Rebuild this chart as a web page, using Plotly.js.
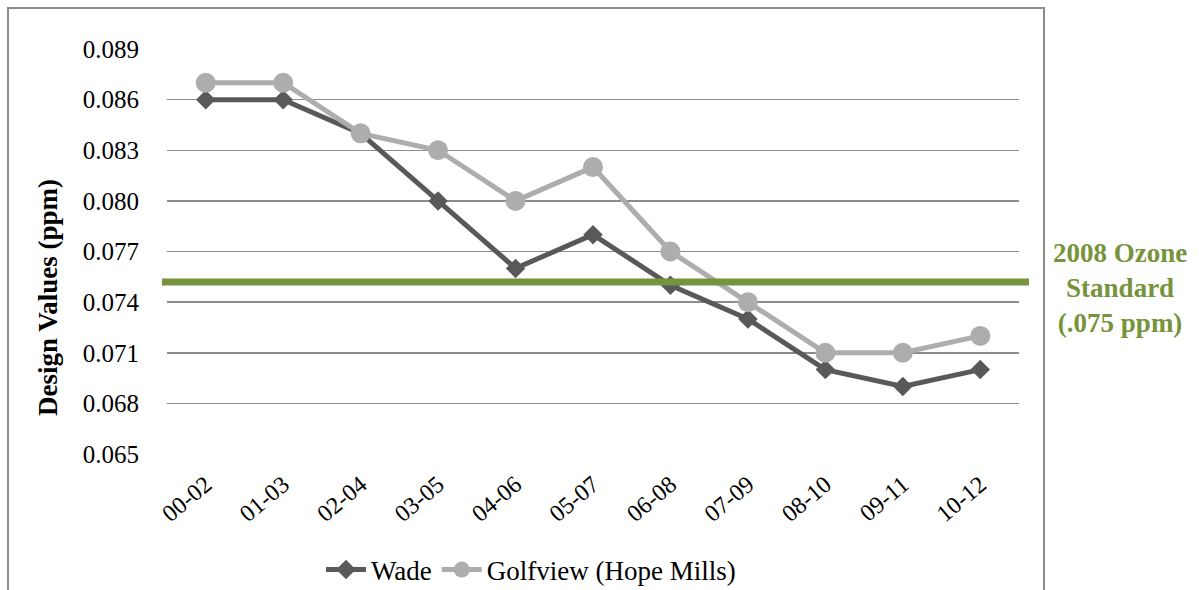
<!DOCTYPE html>
<html>
<head>
<meta charset="utf-8">
<script src="https://cdn.plot.ly/plotly-3.0.1.min.js"></script>
<style>
html,body{margin:0;padding:0;background:#fff;}
#chart{width:1199px;height:590px;}
</style>
</head>
<body>
<div id="chart"></div>
<script>
const periods = ["00-02","01-03","02-04","03-05","04-06","05-07","06-08","07-09","08-10","09-11","10-12"];
const wade = [0.086,0.086,0.084,0.080,0.076,0.078,0.075,0.073,0.070,0.069,0.070];
const golfview = [0.087,0.087,0.084,0.083,0.080,0.082,0.077,0.074,0.071,0.071,0.072];
const yTicks = [0.065,0.068,0.071,0.074,0.077,0.080,0.083,0.086,0.089];
const yTickText = ["0.065","0.068","0.071","0.074","0.077","0.080","0.083","0.086","0.089"];
const standardLevel = 0.0752;
const seriesNames = ["Wade","Golfview (Hope Mills)"];
const standardLabel = "2008 Ozone<br>Standard<br>(.075 ppm)";
const yTitle = "Design Values (ppm)";

const font = "'Liberation Serif', 'Times New Roman', serif";

const traces = [
  {
    x: periods, y: wade, name: seriesNames[0], type: "scatter", mode: "lines+markers",
    line: {color: "#595959", width: 5},
    marker: {symbol: "diamond", size: 15, color: "#595959"}
  },
  {
    x: periods, y: golfview, name: seriesNames[1], type: "scatter", mode: "lines+markers",
    line: {color: "#ADADAD", width: 5},
    marker: {symbol: "circle", size: 20, color: "#ADADAD"}
  }
];

const L = 167, R = 1019, T = 49, B = 454, W = 1199, H = 590;
const px = v => (v - L) / (R - L);
const py = v => (B - v) / (B - T);

const layout = {
  width: W, height: H,
  margin: {l: L, r: W - R, t: T, b: H - B, pad: 0, autoexpand: false},
  paper_bgcolor: "#fff", plot_bgcolor: "#fff",
  font: {family: font, size: 22, color: "#000"},
  showlegend: true,
  legend: {
    orientation: "h", x: px(531), xanchor: "center", y: py(570), yanchor: "middle",
    font: {family: font, size: 27, color: "#000"}, itemwidth: 40, tracegroupgap: 0,
    traceorder: "normal"
  },
  xaxis: {
    type: "category", range: [-0.5, 10.5], showgrid: false, zeroline: false,
    showline: false, ticks: "outside", ticklen: 6, tickcolor: "rgba(0,0,0,0)", tickangle: -40,
    tickfont: {family: font, size: 24, color: "#000"}, automargin: false
  },
  yaxis: {
    range: [0.065, 0.089], tickvals: yTicks, ticktext: yTickText,
    showgrid: true, gridcolor: "#8C8C8C", gridwidth: 1.5, zeroline: false, showline: false,
    ticks: "outside", ticklen: 22, tickcolor: "rgba(0,0,0,0)",
    tickfont: {family: font, size: 25, color: "#000"}, automargin: false
  },
  shapes: [
    {type: "rect", xref: "paper", yref: "paper", x0: px(8), x1: px(1044), y0: py(620), y1: py(8),
     line: {color: "#8C8C8C", width: 2}, fillcolor: "rgba(0,0,0,0)", layer: "below"},
    {type: "line", xref: "paper", yref: "y", x0: px(162), x1: px(1029), y0: standardLevel, y1: standardLevel,
     line: {color: "#77933C", width: 7}, layer: "above"}
  ],
  annotations: [
    {text: "<b>" + standardLabel + "</b>", xref: "paper", yref: "paper", x: px(1120), y: py(288),
     xanchor: "center", yanchor: "middle", showarrow: false, align: "center",
     font: {family: font, size: 27, color: "#77933C"}},
    {text: "<b>" + yTitle + "</b>", xref: "paper", yref: "paper", x: px(48), y: py(298),
     xanchor: "center", yanchor: "middle", showarrow: false, textangle: -90,
     font: {family: font, size: 27, color: "#000"}}
  ]
};

Plotly.newPlot("chart", traces, layout, {displayModeBar: false, staticPlot: true});
</script>
</body>
</html>
